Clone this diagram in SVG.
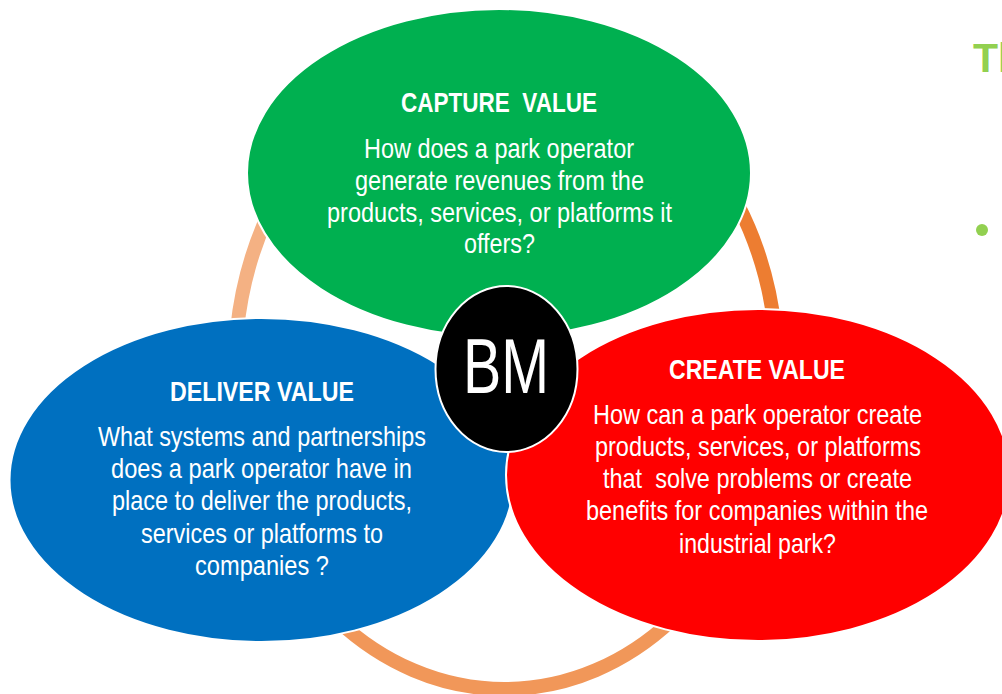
<svg xmlns="http://www.w3.org/2000/svg" width="1002" height="694" viewBox="0 0 1002 694">
<style>
text{font-family:"Liberation Sans",Arial,sans-serif;fill:#fff;font-size:28.500px;white-space:pre}
.t{font-weight:bold}
.n{stroke:#fff;stroke-width:2}
.a{fill:none;stroke-width:14}
</style>
<rect width="1002" height="694" fill="#fff"/>
<g id="connectors">
<path class="a" stroke="#f4b183" d="M237 330A270 320 0 0 1 268 215"/>
<path class="a" stroke="#ed7d31" d="M738 205A272 320 0 0 1 775 330"/>
<path class="a" stroke="#f19759" d="M672 620A270 320 0 0 1 337 620"/>
</g>
<g id="capture-value">
<ellipse class="n" cx="499" cy="173" rx="252" ry="164" fill="#00b050"/>
<text class="t" x="401" y="112" textLength="196" lengthAdjust="spacingAndGlyphs">CAPTURE  VALUE</text>
<text x="364" y="158" textLength="270" lengthAdjust="spacingAndGlyphs">How does a park operator</text>
<text x="355" y="190" textLength="289" lengthAdjust="spacingAndGlyphs">generate revenues from the</text>
<text x="327" y="222" textLength="345" lengthAdjust="spacingAndGlyphs">products, services, or platforms it</text>
<text x="464" y="253" textLength="71" lengthAdjust="spacingAndGlyphs">offers?</text>
</g>
<g id="deliver-value">
<ellipse class="n" cx="261.500" cy="480" rx="252" ry="162" fill="#0070c0"/>
<text class="t" x="170" y="401" textLength="184" lengthAdjust="spacingAndGlyphs">DELIVER VALUE</text>
<text x="98" y="446" textLength="328" lengthAdjust="spacingAndGlyphs">What systems and partnerships</text>
<text x="111" y="478" textLength="301" lengthAdjust="spacingAndGlyphs">does a park operator have in</text>
<text x="112" y="510" textLength="300" lengthAdjust="spacingAndGlyphs">place to deliver the products,</text>
<text x="141" y="543" textLength="242" lengthAdjust="spacingAndGlyphs">services or platforms to</text>
<text x="195" y="575" textLength="134" lengthAdjust="spacingAndGlyphs">companies ?</text>
</g>
<g id="create-value">
<ellipse class="n" cx="758" cy="475" rx="252" ry="166" fill="#f00"/>
<text class="t" x="669" y="379" textLength="176" lengthAdjust="spacingAndGlyphs">CREATE VALUE</text>
<text x="593" y="424" textLength="329" lengthAdjust="spacingAndGlyphs">How can a park operator create</text>
<text x="595" y="456" textLength="326" lengthAdjust="spacingAndGlyphs">products, services, or platforms</text>
<text x="603" y="488" textLength="309" lengthAdjust="spacingAndGlyphs">that  solve problems or create</text>
<text x="586" y="520" textLength="342" lengthAdjust="spacingAndGlyphs">benefits for companies within the</text>
<text x="679" y="553" textLength="157" lengthAdjust="spacingAndGlyphs">industrial park?</text>
</g>
<g id="bm">
<ellipse class="n" cx="506.500" cy="369" rx="71" ry="83" fill="#000"/>
<text x="463" y="393" style="font-size:78px" textLength="86" lengthAdjust="spacingAndGlyphs">BM</text>
</g>
<g id="side-text">
<text class="t" x="973" y="72" style="font-size:41px;fill:#92d050">Th</text>
<circle cx="982" cy="230" r="6" fill="#92d050"/>
</g>
</svg>
